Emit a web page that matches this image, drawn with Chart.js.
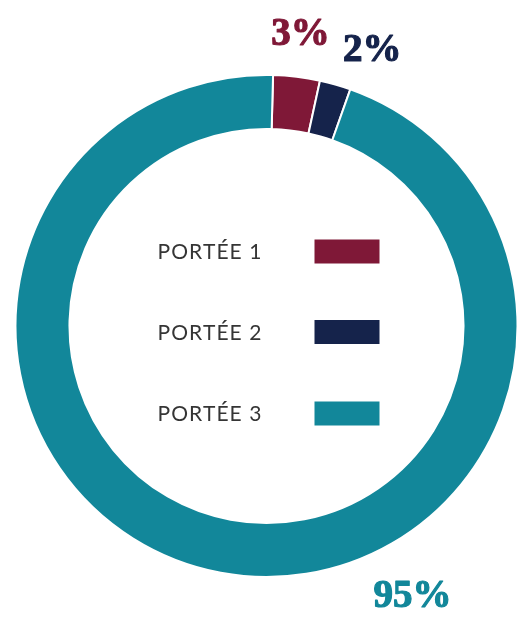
<!DOCTYPE html>
<html>
<head>
<meta charset="utf-8">
<script src="https://cdn.jsdelivr.net/npm/chart.js@4"></script>
<style>
  html, body { margin: 0; padding: 0; background: #fff; }
  canvas { display: block; }
</style>
</head>
<body>
<canvas id="myChart" width="519" height="618"></canvas>
<script>
var labels = ['PORTÉE 1', 'PORTÉE 2', 'PORTÉE 3'];
var values = [3, 2, 95];
var valueLabels = ['3%', '2%', '95%'];
var colors = ['#7f1837', '#15234b', '#12879a'];

// where the percentage labels sit: angle (deg, clockwise from top) and distance from center
var labelSpots = [
    { angle: 6.9, dist: 283 },
    { angle: 21.8, dist: 285 },
    { angle: 152.6, dist: 317 }
];

var centerLegend = {
    id: 'centerLegend',
    afterDraw: function(chart) {
        var ctx = chart.ctx;
        var arc = chart.getDatasetMeta(0).data[0];
        var cx = arc.x, cy = arc.y;
        var rows = [-74.5, 6, 87.5];
        ctx.save();
        ctx.font = '400 21px Lato';
        ctx.letterSpacing = '1.1px';
        ctx.fillStyle = '#353535';
        ctx.textBaseline = 'middle';
        ctx.textAlign = 'left';
        labels.forEach(function(l, i) {
            ctx.fillText(l, cx - 109, cy + rows[i] + 1);
            ctx.fillStyle = colors[i];
            ctx.fillRect(cx + 48, cy + rows[i] - 12, 65, 24);
            ctx.fillStyle = '#353535';
        });
        ctx.letterSpacing = '0px';
        ctx.font = 'bold 39px "Liberation Serif"';
        ctx.textAlign = 'center';
        ctx.textBaseline = 'alphabetic';
        ctx.lineWidth = 1.2;
        ctx.lineJoin = 'round';
        valueLabels.forEach(function(t, i) {
            var a = labelSpots[i].angle * Math.PI / 180;
            var d = labelSpots[i].dist;
            var x = cx + d * Math.sin(a), y = cy - d * Math.cos(a);
            ctx.fillStyle = colors[i];
            ctx.strokeStyle = colors[i];
            ctx.fillText(t, x, y);
            ctx.strokeText(t, x, y);
        });
        ctx.restore();
    }
};

var ctx = document.getElementById('myChart').getContext('2d');
var myChart = new Chart(ctx, {
    type: 'doughnut',
    data: {
        labels: labels,
        datasets: [{
            data: values,
            backgroundColor: colors,
            borderColor: '#ffffff',
            borderWidth: 2
        }]
    },
    options: {
        responsive: false,
        animation: false,
        cutout: '78.5%',
        rotation: 1.5,
        layout: {
            padding: { left: 14, top: 74, right: 0, bottom: 40 }
        },
        plugins: {
            legend: { display: false },
            tooltip: { enabled: false }
        }
    },
    plugins: [centerLegend]
});
</script>
</body>
</html>
